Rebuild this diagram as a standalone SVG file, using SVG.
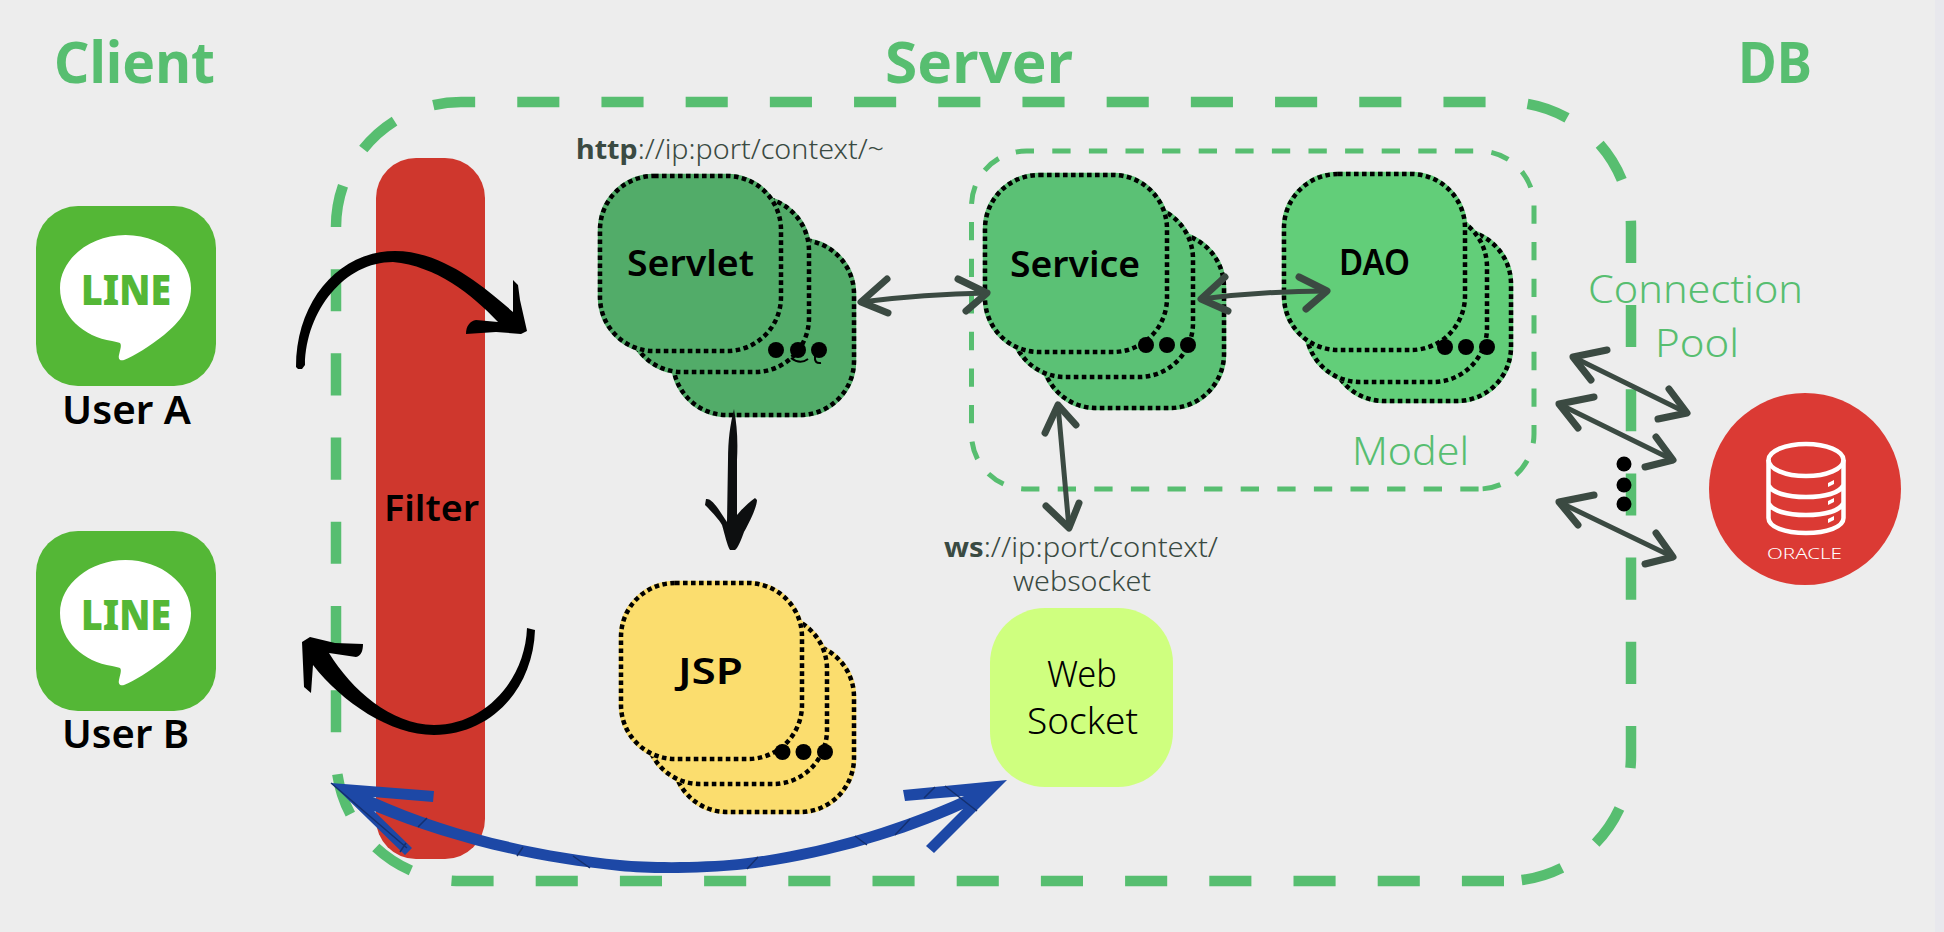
<svg xmlns="http://www.w3.org/2000/svg" width="1944" height="932" viewBox="0 0 1944 932">
<style>
text{font-family:"Noto Sans","Liberation Sans",sans-serif}
.h{font-size:57px;font-weight:700;fill:#57BE70}
.u{font-size:39px;font-weight:600;fill:#000}
.t{font-size:36px;font-weight:600;fill:#000}
.l{font-size:39px;font-weight:300;fill:#57BE70}
.w{font-size:36px;font-weight:300;fill:#000}
.a{font-size:27px;font-weight:300;fill:#3A4A42}
.a tspan{font-weight:700}
.logo{font-size:43px;font-weight:900;fill:#54B736}
.card{stroke-width:4.5}
.dots{stroke:#000;stroke-dasharray:4.6 3.4}
.dot{fill:#000;stroke:none}
.head{fill:none;stroke:#3B4A42;stroke-width:7;stroke-linecap:round;stroke-linejoin:round}
.shaft{fill:none;stroke:#3B4A42;stroke-width:5;stroke-linecap:round}
.ic{fill:none;stroke:#fff;stroke-width:4.5}
</style>
<defs>
<path id="bubble" fill="#fff" d="M125.5 235C161 235 191 259 191 288C191 308 180 322 164 335C150 346 134 356 124 360C120 361 118 359 119 355C120 350 122 345 120 343C118 342 115 342 112 341C84 337 60 316 60 288C60 259 90 235 125.5 235Z"/>
</defs>
<rect width="1944" height="932" fill="#EDEDED"/>
<rect x="1935" width="9" height="932" fill="#E8E8ED"/>

<text class="h" x="54" y="83" textLength="161" lengthAdjust="spacingAndGlyphs">Client</text>
<text class="h" x="885" y="83" textLength="188" lengthAdjust="spacingAndGlyphs">Server</text>
<text class="h" x="1738" y="83" textLength="74" lengthAdjust="spacingAndGlyphs">DB</text>

<g id="server-box"><path fill="none" stroke="#57BE70" stroke-width="10.5" stroke-dasharray="42.1 42.1" d="M1504 881H461A125 125 0 0 1 336 756V227A125 125 0 0 1 461 102H1506A125 125 0 0 1 1631 227V756A125 125 0 0 1 1506 881Z"/></g>

<g id="user-a">
<rect x="36" y="206" width="180" height="180" rx="42" fill="#54B736"/>
<use href="#bubble"/>
<text class="logo" x="81" y="305" textLength="90" lengthAdjust="spacingAndGlyphs">LINE</text>
<text class="u" x="62" y="424" textLength="129" lengthAdjust="spacingAndGlyphs">User A</text>
</g>
<g id="user-b">
<rect x="36" y="531" width="180" height="180" rx="42" fill="#54B736"/>
<use href="#bubble" y="325"/>
<text class="logo" x="81" y="630" textLength="90" lengthAdjust="spacingAndGlyphs">LINE</text>
<text class="u" x="62" y="748" textLength="127" lengthAdjust="spacingAndGlyphs">User B</text>
</g>

<g id="filter">
<rect x="376" y="158" width="109" height="701" rx="40" fill="#CF372D"/>
<text class="t" x="384" y="521" textLength="95" lengthAdjust="spacingAndGlyphs">Filter</text>
</g>

<text class="a" x="576" y="159" textLength="308" lengthAdjust="spacingAndGlyphs"><tspan>http</tspan>://ip:port/context/~</text>

<g id="servlet" fill="#52AC69" stroke="#52AC69">
<rect class="card" x="673" y="240" width="181" height="175" rx="54"/>
<rect class="card dots" x="673" y="240" width="181" height="175" rx="54"/>
<rect class="card" x="628" y="197" width="181" height="175" rx="54"/>
<rect class="card dots" x="628" y="197" width="181" height="175" rx="54"/>
<rect class="card" x="600" y="176" width="181" height="175" rx="54"/>
<rect class="card dots" x="600" y="176" width="181" height="175" rx="54"/>
<circle class="dot" cx="776" cy="350" r="8"/><circle class="dot" cx="798" cy="350" r="8"/><circle class="dot" cx="819" cy="350" r="8"/>
<path fill="none" stroke="#000" stroke-width="2" d="M791 358q9 7 17 1M815 356q-1 8 6 7"/>
<text class="t" stroke="none" x="627" y="276" textLength="127" lengthAdjust="spacingAndGlyphs">Servlet</text>
</g>

<g id="model-box"><path fill="none" stroke="#57BE70" stroke-width="5" stroke-dasharray="18.3 18.3" d="M1478.6 489H1026.5A55 55 0 0 1 971.5 434V206A55 55 0 0 1 1026.5 151H1479A55 55 0 0 1 1534 206V434A55 55 0 0 1 1479 489Z"/>
<text class="l" x="1352" y="465" textLength="117" lengthAdjust="spacingAndGlyphs">Model</text></g>

<g id="service" fill="#5BC175" stroke="#5BC175">
<rect class="card" x="1042" y="233" width="182" height="175" rx="54"/>
<rect class="card dots" x="1042" y="233" width="182" height="175" rx="54"/>
<rect class="card" x="1011" y="205" width="182" height="172" rx="54"/>
<rect class="card dots" x="1011" y="205" width="182" height="172" rx="54"/>
<rect class="card" x="985" y="175" width="182" height="177" rx="54"/>
<rect class="card dots" x="985" y="175" width="182" height="177" rx="54"/>
<circle class="dot" cx="1146" cy="345" r="8"/><circle class="dot" cx="1167" cy="345" r="8"/><circle class="dot" cx="1188" cy="345" r="8"/>
<text class="t" stroke="none" x="1010" y="277" textLength="130" lengthAdjust="spacingAndGlyphs">Service</text>
</g>

<g id="dao" fill="#62CE79" stroke="#62CE79">
<rect class="card" x="1330" y="230" width="181" height="171" rx="54"/>
<rect class="card dots" x="1330" y="230" width="181" height="171" rx="54"/>
<rect class="card" x="1306" y="213" width="181" height="169" rx="54"/>
<rect class="card dots" x="1306" y="213" width="181" height="169" rx="54"/>
<rect class="card" x="1284" y="174" width="181" height="176" rx="54"/>
<rect class="card dots" x="1284" y="174" width="181" height="176" rx="54"/>
<circle class="dot" cx="1445" cy="347" r="8"/><circle class="dot" cx="1466" cy="347" r="8"/><circle class="dot" cx="1487" cy="347" r="8"/>
<text class="t" stroke="none" x="1339" y="275" textLength="71" lengthAdjust="spacingAndGlyphs">DAO</text>
</g>

<g id="jsp" fill="#FBDD6E" stroke="#FBDD6E">
<rect class="card" x="673" y="643" width="181" height="169" rx="54"/>
<rect class="card dots" x="673" y="643" width="181" height="169" rx="54"/>
<rect class="card" x="646" y="615" width="181" height="169" rx="54"/>
<rect class="card dots" x="646" y="615" width="181" height="169" rx="54"/>
<rect class="card" x="621" y="583" width="181" height="176" rx="54"/>
<rect class="card dots" x="621" y="583" width="181" height="176" rx="54"/>
<circle class="dot" cx="782.5" cy="752" r="8"/><circle class="dot" cx="803.5" cy="752" r="8"/><circle class="dot" cx="825" cy="752" r="8"/>
<text class="t" stroke="none" x="678" y="684" textLength="65" lengthAdjust="spacingAndGlyphs">JSP</text>
</g>

<text class="a" x="944" y="557" textLength="274" lengthAdjust="spacingAndGlyphs"><tspan>ws</tspan>://ip:port/context/</text>
<text class="a" x="1013" y="591" textLength="138" lengthAdjust="spacingAndGlyphs">websocket</text>

<g id="websocket">
<rect x="990" y="608" width="183" height="179" rx="55" fill="#CFFF7F"/>
<text class="w" x="1047" y="687" textLength="70" lengthAdjust="spacingAndGlyphs">Web</text>
<text class="w" x="1027" y="734" textLength="111" lengthAdjust="spacingAndGlyphs">Socket</text>
</g>

<g id="oracle">
<circle cx="1805" cy="489" r="96" fill="#DB3A34"/>
<ellipse class="ic" cx="1806" cy="460" rx="37.5" ry="16"/>
<path class="ic" d="M1768.5 460V518C1768.5 527 1785 533 1806 533C1827 533 1843.5 527 1843.5 518V460M1768.5 485C1772 493 1787 497 1806 497C1825 497 1840 493 1843.5 485M1768.5 503C1772 511 1787 515 1806 515C1825 515 1840 511 1843.5 503"/>
<path fill="#fff" d="M1828 483l6-3v4l-6 3zM1828 501l6-3v4l-6 3zM1828 519l6-3v4l-6 3z"/>
<text x="1767" y="559" font-size="14" font-weight="300" fill="#fff" textLength="75" lengthAdjust="spacingAndGlyphs">ORACLE</text>
</g>

<g id="pool-label">
<text class="l" x="1588" y="303" textLength="215" lengthAdjust="spacingAndGlyphs">Connection</text>
<text class="l" x="1655" y="357" textLength="84" lengthAdjust="spacingAndGlyphs">Pool</text>
<circle class="dot" cx="1624" cy="464" r="7.5"/><circle class="dot" cx="1624" cy="485" r="7.5"/><circle class="dot" cx="1624" cy="504" r="7.5"/>
</g>

<g id="connectors">
<path fill="#000" d="M296 367C296 300 340 251 395 251C440 251 480 283 513 312L513 280L518 285L520 300L527 331L521 334L496 332L466 334C466 326 470 321 476 320L498 322C472 294 436 266 393 262C345 262 306 310 305 365L302 369L298 369Z"/>
<path fill="#000" d="M302 642L310 637L335 643L363 644C363 651 361 656 356 657L329 653C352 690 390 724 434 725C485 725 525 680 527 628L535 630C533 690 490 735 434 735C390 735 342 702 313 665L311 693L304 687Z"/>
<path fill="#0D0F10" d="M734 409C737 425 738 440 737 460L737 515C741 510 748 503 755 498L757 500C757 505 752 518 744 532C741 540 738 548 735 550L730 550C727 545 725 535 722 525C718 518 710 510 705 505L706 499C713 498 720 512 727 522L728 460C728 440 730 425 734 409Z"/>
<g id="servlet-service"><path class="shaft" d="M861 302Q925 294 987 293"/><path class="head" d="M887 279L861 302L888 313M958 279L987 293L966 311"/></g>
<g id="service-dao"><path class="shaft" d="M1201 299Q1265 291 1327 291"/><path class="head" d="M1225 277L1201 299L1228 311M1299 277L1327 291L1306 309"/></g>
<g id="service-ws"><path class="shaft" d="M1058 405Q1064 470 1069 528"/><path class="head" d="M1045 433L1058 405L1076 425M1046 506L1069 528L1079 503"/></g>
<g id="pool-1"><path class="shaft" d="M1573 357L1687 413"/><path class="head" d="M1607 350L1573 357L1591 380M1669 389L1687 413L1658 419"/></g>
<g id="pool-2"><path class="shaft" d="M1559 404L1673 460"/><path class="head" d="M1594 397L1559 404L1578 428M1656 437L1673 460L1645 467"/></g>
<g id="pool-3"><path class="shaft" d="M1559 502L1673 557"/><path class="head" d="M1594 495L1559 502L1578 525M1656 533L1673 557L1645 564"/></g>
<g id="websocket-client">
<path fill="#1D48A6" d="M331 783L434 791L433 802L373 797C450 832 540 852 620 860C650 863 700 863 740 859C820 850 900 825 964 796L905 801L903 790L1007 780L934 853L926 846L963 809C900 838 820 860 747 869C700 874 650 874 620 871C530 862 450 842 374 811L412 848L405 855Z"/>
<path fill="none" stroke="#14306F" stroke-width="1.5" d="M427 818L418 827M523 847L517 856M573 856L590 868M758 857L747 869M855 836L867 845M910 819L895 835M945 786L977 811M935 787L924 798M331 783L407 848M400 852L406 843"/>
</g>
</g>
</svg>
